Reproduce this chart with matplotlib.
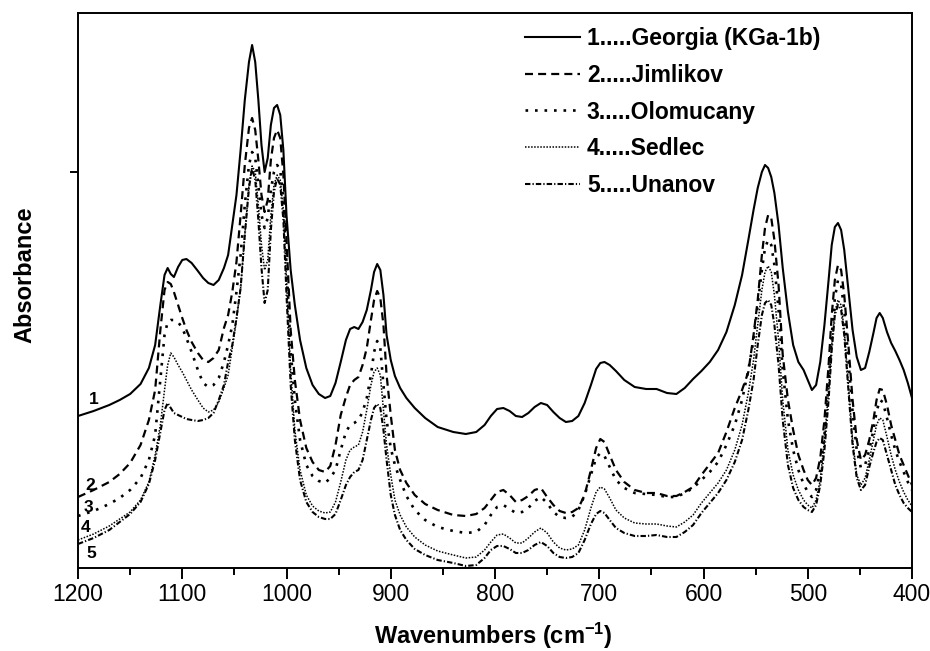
import matplotlib
matplotlib.use('Agg')
import matplotlib.pyplot as plt
from matplotlib.ticker import MultipleLocator

plt.rcParams['font.family'] = ['Liberation Sans', 'DejaVu Sans']
plt.rcParams['mathtext.default'] = 'regular'

# ---------------- data ----------------
wavenumber = [
    1200, 1185, 1170, 1160, 1150, 1140, 1132, 1126, 1121, 1117,
    1114, 1111, 1108, 1104, 1100, 1096, 1091, 1085, 1080, 1075,
    1070, 1065, 1060, 1056, 1052, 1048, 1044, 1040, 1036, 1033,
    1030, 1027, 1024, 1021, 1018, 1015, 1012, 1009, 1006, 1003,
    1000, 996, 992, 987, 981, 975, 969, 963, 958, 953,
    948, 943, 939, 935, 931, 927, 923, 919, 916, 913,
    910, 907, 904, 900, 896, 891, 885, 877, 867, 855,
    840, 828, 818, 810, 804, 798, 792, 786, 780, 774,
    768, 762, 756, 750, 744, 738, 732, 726, 720, 714,
    708, 703, 699, 695, 690, 684, 676, 666, 655, 645,
    635, 626, 618, 610, 602, 594, 586, 578, 570, 563,
    557, 552, 548, 544, 541, 538, 535, 532, 528, 524,
    519, 514, 509, 504, 500, 496, 492, 488, 484, 480,
    477, 474, 471, 468, 465, 461, 457, 453, 449, 445,
    441, 437, 434, 431, 428, 424, 420, 416, 412, 408,
    404, 400]

georgia = [
    1.52, 1.57, 1.63, 1.68, 1.74, 1.84, 2.00, 2.23, 2.63, 2.93,
    3.00, 2.94, 2.91, 3.01, 3.08, 3.09, 3.05, 2.97, 2.90, 2.85,
    2.83, 2.88, 3.00, 3.13, 3.43, 3.73, 4.18, 4.68, 5.06, 5.23,
    5.06, 4.68, 4.23, 3.96, 4.10, 4.43, 4.60, 4.63, 4.53, 4.18,
    3.53, 2.98, 2.63, 2.28, 2.00, 1.83, 1.74, 1.70, 1.72, 1.85,
    2.06, 2.28, 2.39, 2.41, 2.39, 2.46, 2.58, 2.78, 2.96, 3.04,
    2.98, 2.73, 2.33, 2.08, 1.92, 1.80, 1.70, 1.60, 1.50, 1.41,
    1.36, 1.34, 1.36, 1.43, 1.52, 1.59, 1.60, 1.57, 1.52, 1.51,
    1.55, 1.61, 1.65, 1.63, 1.56, 1.50, 1.46, 1.47, 1.52, 1.65,
    1.83, 1.99, 2.05, 2.06, 2.03, 1.97, 1.88, 1.81, 1.79, 1.79,
    1.75, 1.74, 1.80, 1.89, 1.97, 2.06, 2.18, 2.36, 2.63, 2.93,
    3.28, 3.58, 3.80, 3.96, 4.03, 4.00, 3.91, 3.75, 3.43, 3.00,
    2.56, 2.23, 2.06, 1.98, 1.88, 1.78, 1.83, 2.06, 2.43, 2.88,
    3.23, 3.41, 3.45, 3.38, 3.18, 2.78, 2.38, 2.11, 1.98, 2.00,
    2.16, 2.35, 2.50, 2.55, 2.50, 2.36, 2.25, 2.17, 2.08, 1.98,
    1.85, 1.70]

jimlikov = [
    0.71, 0.78, 0.86, 0.94, 1.05, 1.23, 1.48, 1.78, 2.38, 2.78,
    2.86, 2.84, 2.76, 2.63, 2.50, 2.38, 2.26, 2.15, 2.08, 2.06,
    2.10, 2.18, 2.40, 2.53, 2.76, 3.06, 3.53, 4.03, 4.40, 4.50,
    4.38, 4.08, 3.73, 3.56, 3.68, 4.08, 4.30, 4.38, 4.30, 3.93,
    3.28, 2.38, 1.88, 1.48, 1.20, 1.06, 0.98, 0.96, 1.02, 1.23,
    1.53, 1.71, 1.83, 1.88, 1.91, 2.03, 2.20, 2.48, 2.68, 2.77,
    2.70, 2.43, 1.93, 1.53, 1.18, 0.98, 0.85, 0.73, 0.64, 0.58,
    0.53, 0.52, 0.54, 0.60, 0.68, 0.76, 0.78, 0.73, 0.66, 0.68,
    0.72, 0.78, 0.80, 0.71, 0.63, 0.57, 0.55, 0.56, 0.60, 0.73,
    0.98, 1.20, 1.29, 1.26, 1.13, 0.98, 0.86, 0.78, 0.75, 0.75,
    0.72, 0.72, 0.76, 0.81, 0.93, 1.04, 1.15, 1.36, 1.60, 1.78,
    1.96, 2.33, 2.68, 3.13, 3.40, 3.53, 3.50, 3.28, 2.83, 2.13,
    1.68, 1.38, 1.13, 0.98, 0.88, 0.83, 0.90, 1.10, 1.48, 2.03,
    2.53, 2.88, 3.03, 2.98, 2.73, 2.23, 1.68, 1.28, 1.08, 1.13,
    1.28, 1.48, 1.68, 1.79, 1.78, 1.63, 1.43, 1.28, 1.13, 1.03,
    0.93, 0.83]

olomucany = [
    0.52, 0.57, 0.64, 0.70, 0.78, 0.90, 1.08, 1.33, 1.88, 2.33,
    2.46, 2.48, 2.48, 2.46, 2.40, 2.30, 2.16, 1.98, 1.85, 1.81,
    1.83, 1.90, 2.06, 2.23, 2.43, 2.76, 3.13, 3.63, 4.03, 4.16,
    4.10, 3.83, 3.53, 3.40, 3.50, 3.78, 3.96, 4.03, 3.98, 3.68,
    3.03, 2.18, 1.68, 1.28, 1.03, 0.92, 0.87, 0.85, 0.90, 0.98,
    1.18, 1.36, 1.43, 1.45, 1.48, 1.56, 1.70, 1.93, 2.16, 2.27,
    2.20, 1.83, 1.48, 1.20, 1.03, 0.88, 0.72, 0.58, 0.48, 0.41,
    0.37, 0.35, 0.36, 0.43, 0.53, 0.61, 0.63, 0.59, 0.55, 0.56,
    0.60, 0.67, 0.71, 0.65, 0.56, 0.51, 0.50, 0.51, 0.58, 0.73,
    0.93, 1.10, 1.15, 1.12, 1.01, 0.88, 0.80, 0.75, 0.74, 0.73,
    0.71, 0.71, 0.75, 0.80, 0.88, 0.96, 1.06, 1.23, 1.43, 1.68,
    1.98, 2.28, 2.63, 2.98, 3.20, 3.28, 3.23, 3.03, 2.58, 1.98,
    1.48, 1.18, 0.98, 0.84, 0.76, 0.71, 0.78, 0.98, 1.33, 1.83,
    2.33, 2.70, 2.88, 2.83, 2.58, 2.08, 1.56, 1.18, 1.00, 1.03,
    1.18, 1.38, 1.56, 1.68, 1.66, 1.50, 1.33, 1.18, 1.06, 0.96,
    0.86, 0.78]

sedlec = [
    0.28, 0.34, 0.42, 0.49, 0.56, 0.68, 0.86, 1.13, 1.43, 1.78,
    2.03, 2.15, 2.11, 2.03, 1.96, 1.88, 1.78, 1.68, 1.60, 1.56,
    1.58, 1.66, 1.80, 1.93, 2.20, 2.48, 2.80, 3.33, 3.83, 4.02,
    3.96, 3.63, 3.23, 2.98, 3.08, 3.53, 3.83, 3.93, 3.88, 3.58,
    2.88, 1.98, 1.38, 0.98, 0.73, 0.62, 0.57, 0.55, 0.56, 0.66,
    0.86, 1.08, 1.18, 1.21, 1.23, 1.36, 1.58, 1.83, 1.96, 2.00,
    1.93, 1.58, 1.23, 0.93, 0.68, 0.53, 0.41, 0.31, 0.23, 0.17,
    0.13, 0.10, 0.11, 0.18, 0.26, 0.33, 0.34, 0.30, 0.25, 0.25,
    0.30, 0.36, 0.40, 0.35, 0.26, 0.20, 0.18, 0.19, 0.23, 0.38,
    0.60, 0.76, 0.81, 0.79, 0.70, 0.58, 0.50, 0.45, 0.44, 0.44,
    0.42, 0.41, 0.46, 0.53, 0.65, 0.75, 0.85, 0.98, 1.18, 1.43,
    1.75, 2.08, 2.43, 2.78, 2.96, 3.02, 2.96, 2.73, 2.28, 1.68,
    1.18, 0.93, 0.78, 0.68, 0.63, 0.60, 0.68, 0.88, 1.28, 1.78,
    2.23, 2.56, 2.68, 2.63, 2.38, 1.83, 1.28, 0.93, 0.83, 0.90,
    1.08, 1.28, 1.43, 1.50, 1.48, 1.31, 1.13, 0.98, 0.86, 0.76,
    0.68, 0.62]

unanov = [
    0.24, 0.30, 0.38, 0.46, 0.54, 0.66, 0.84, 1.08, 1.36, 1.58,
    1.65, 1.60, 1.55, 1.53, 1.51, 1.49, 1.48, 1.47, 1.48, 1.50,
    1.55, 1.68, 1.83, 2.06, 2.23, 2.50, 2.80, 3.33, 3.80, 4.00,
    3.88, 3.48, 3.00, 2.65, 2.78, 3.38, 3.76, 3.90, 3.83, 3.48,
    2.73, 1.83, 1.28, 0.88, 0.66, 0.56, 0.51, 0.49, 0.49, 0.54,
    0.68, 0.83, 0.91, 0.96, 0.98, 1.08, 1.28, 1.48, 1.60, 1.64,
    1.60, 1.38, 1.08, 0.73, 0.53, 0.38, 0.28, 0.19, 0.13, 0.08,
    0.05, 0.02, 0.03, 0.10, 0.18, 0.22, 0.22, 0.19, 0.15, 0.15,
    0.18, 0.23, 0.26, 0.22, 0.15, 0.11, 0.10, 0.11, 0.15, 0.28,
    0.44, 0.54, 0.57, 0.55, 0.48, 0.40, 0.35, 0.32, 0.32, 0.33,
    0.31, 0.31, 0.36, 0.43, 0.55, 0.65, 0.75, 0.88, 1.06, 1.28,
    1.58, 1.88, 2.23, 2.53, 2.65, 2.68, 2.63, 2.43, 2.03, 1.48,
    1.03, 0.80, 0.68, 0.61, 0.58, 0.56, 0.63, 0.83, 1.18, 1.68,
    2.18, 2.53, 2.63, 2.58, 2.33, 1.78, 1.23, 0.90, 0.78, 0.83,
    1.01, 1.16, 1.26, 1.30, 1.28, 1.13, 0.98, 0.83, 0.73, 0.65,
    0.60, 0.56]

legend_labels = ['1.....Georgia (KGa-1b)', '2.....Jimlikov', '3.....Olomucany',
                 '4.....Sedlec', '5.....Unanov']
curve_numbers = ['1', '2', '3', '4', '5']
x_ticks = [1200, 1100, 1000, 900, 800, 700, 600, 500, 400]

# ---------------- figure ----------------
fig = plt.figure(figsize=(9.3, 6.51), dpi=100)
ax = fig.add_axes([78 / 930, 83 / 651, 834 / 930, 555 / 651])

series = [georgia, jimlikov, olomucany, sedlec, unanov]
styles = [
    dict(linestyle='-', linewidth=1.5),
    dict(linestyle=(0, (3.6, 2.3)), linewidth=1.6),
    dict(linestyle=(0, (1, 2.6)), linewidth=1.9),
    dict(linestyle=(0, (1, 1)), linewidth=1.1),
    dict(linestyle=(0, (2.6, 1.0, 0.6, 1.0)), linewidth=1.5),
]
for vals, st, lab in zip(series, styles, legend_labels):
    ax.plot(wavenumber, vals, color='black', label=lab, **st)

ax.set_xlim(1200, 400)
ax.set_ylim(0, 5.55)
ax.set_xticks(x_ticks)
ax.set_xticklabels([str(t) for t in x_ticks])
ax.xaxis.set_minor_locator(MultipleLocator(50))
ax.set_yticks([3.96])
ax.set_yticklabels([])
ax.tick_params(axis='x', which='major', direction='out', length=8, width=1.4,
               labelsize=16.5, pad=3)
ax.tick_params(axis='x', which='minor', direction='out', length=5, width=1.4)
ax.tick_params(axis='y', which='major', direction='out', length=6, width=1.4)
for s in ax.spines.values():
    s.set_linewidth(1.4)

# curve numbers at the left
label_pos = [(1184.7, 1.68), (1188.5, 0.83), (1190.4, 0.60), (1192.3, 0.40), (1187.5, 0.15)]
for t, (xx, yy) in zip(curve_numbers, label_pos):
    ax.text(xx, yy, t, fontsize=12.5, fontweight='bold', ha='center', va='center')

leg = ax.legend(loc='upper left', bbox_to_anchor=((525 - 78) / 834, (568 - 27) / 555),
                frameon=False, prop=dict(size=16.5, weight='bold'),
                handlelength=2.4, handletextpad=0.3, labelspacing=0.6,
                borderpad=0, borderaxespad=0)

fig.text(493 / 930, 1 - 636 / 651, 'Wavenumbers (cm$^{-1}$)', ha='center', va='center',
         fontsize=17, fontweight='bold')
fig.text(25 / 930, 1 - 275 / 651, 'Absorbance', ha='center', va='center',
         rotation=90, fontsize=17, fontweight='bold')

fig.savefig('out.png', dpi=100)
